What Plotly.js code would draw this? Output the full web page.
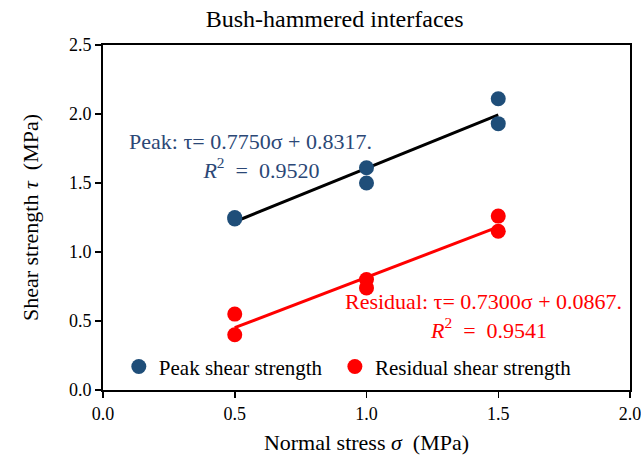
<!DOCTYPE html>
<html>
<head>
<meta charset="utf-8">
<script src="https://cdn.plot.ly/plotly-3.0.1.min.js"></script>
<style>html,body{margin:0;padding:0;background:#fff;}#chart{width:641px;height:455px;}</style>
</head>
<body>
<div id="chart"></div>
<script>
// Data
const peakX = [0.5, 0.5, 1.0, 1.0, 1.5, 1.5];
const peakY = [1.25, 1.24, 1.61, 1.50, 2.11, 1.93];
const residualX = [0.5, 0.5, 1.0, 1.0, 1.5, 1.5];
const residualY = [0.55, 0.40, 0.80, 0.74, 1.26, 1.15];
// Linear fit parameters shown on the chart
const peakFit = [0.7750, 0.8317];      // slope, intercept
const residualFit = [0.7300, 0.0867];  // slope, intercept
const fitRange = [0.5, 1.5];
const seriesNames = ['Peak shear strength', 'Residual shear strength'];
const xTicks = [0, 0.5, 1.0, 1.5, 2.0];
const xTickText = ['0.0', '0.5', '1.0', '1.5', '2.0'];
const yTicks = [0, 0.5, 1.0, 1.5, 2.0, 2.5];
const yTickText = ['0.0', '0.5', '1.0', '1.5', '2.0', '2.5'];

const blue = '#1F4E79';
const textBlue = '#2B4776';
const red = '#FF0000';
const serif = 'Liberation Serif, Times New Roman, serif';

const fitLine = (p) => fitRange.map(x => p[0] * x + p[1]);

const traces = [
  {x: fitRange, y: fitLine(peakFit), mode: 'lines', line: {color: '#000', width: 3}, showlegend: false, hoverinfo: 'skip'},
  {x: fitRange, y: fitLine(residualFit), mode: 'lines', line: {color: red, width: 3}, showlegend: false, hoverinfo: 'skip'},
  {x: peakX, y: peakY, mode: 'markers', name: seriesNames[0], marker: {color: blue, size: 15}, legend: 'legend'},
  {x: residualX, y: residualY, mode: 'markers', name: seriesNames[1], marker: {color: red, size: 15}, legend: 'legend2'}
];

const legendCommon = {
  orientation: 'h', yanchor: 'middle', y: 0.067, xanchor: 'left',
  bgcolor: 'rgba(0,0,0,0)', font: {family: serif, size: 21, color: '#000'},
  itemwidth: 30, tracegroupgap: 0
};

const axisCommon = {
  showgrid: false, zeroline: false, showline: true, linecolor: '#000', linewidth: 2, mirror: true,
  ticks: 'outside', ticklen: 6, tickwidth: 1.5, tickcolor: '#000',
  tickfont: {family: serif, size: 18, color: '#000'}, ticklabeloverflow: 'allow'
};

const layout = {
  width: 641, height: 455,
  margin: {l: 103, r: 11, t: 45, b: 65},
  paper_bgcolor: '#fff', plot_bgcolor: '#fff',
  font: {family: serif, color: '#000'},
  title: {text: 'Bush-hammered interfaces', font: {family: serif, size: 24, color: '#000'}, x: 0.522, xanchor: 'center', y: 0.96, yanchor: 'middle'},
  xaxis: Object.assign({}, axisCommon, {
    range: [0, 2], tickvals: xTicks, ticktext: xTickText,
    title: {text: 'Normal stress <i>σ</i>  (MPa)', font: {family: serif, size: 22, color: '#000'}, standoff: 16}
  }),
  yaxis: Object.assign({}, axisCommon, {
    range: [0, 2.5], tickvals: yTicks, ticktext: yTickText,
    title: {text: 'Shear strength <i>τ</i>  (MPa)', font: {family: serif, size: 22, color: '#000'}, standoff: 24}
  }),
  legend: Object.assign({}, legendCommon, {x: 0.03}),
  legend2: Object.assign({}, legendCommon, {x: 0.44}),
  annotations: [
    {x: 0.558, y: 1.695, xref: 'x', yref: 'y', showarrow: false, align: 'center',
     text: 'Peak: τ= 0.7750σ + 0.8317.<br>\u2002\u2002<i>R</i><sup>2</sup>\u2002=\u20020.9520',
     font: {family: serif, size: 22, color: textBlue}},
    {x: 1.444, y: 0.535, xref: 'x', yref: 'y', showarrow: false, align: 'center',
     text: 'Residual: τ= 0.7300σ + 0.0867.<br>\u2002<i>R</i><sup>2</sup>\u2002=\u20020.9541',
     font: {family: serif, size: 22, color: red}}
  ],
  showlegend: true
};

Plotly.newPlot('chart', traces, layout, {displayModeBar: false, staticPlot: true});
</script>
</body>
</html>
